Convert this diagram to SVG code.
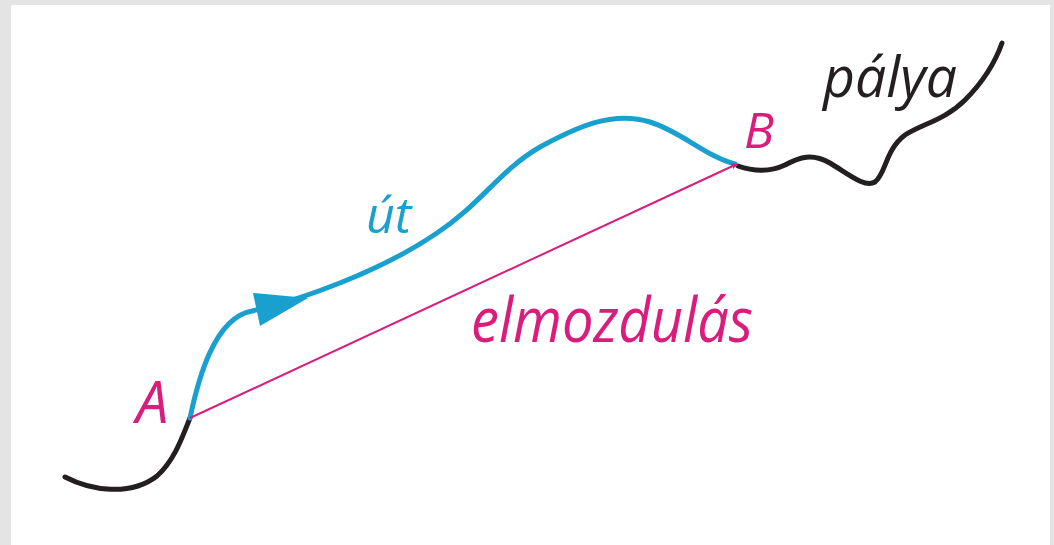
<svg xmlns="http://www.w3.org/2000/svg" width="1054" height="545" viewBox="0 0 1054 545">
  <style>
    .lbl { font-family: "Open Sans", "Noto Sans", sans-serif; font-style: italic; }
    .pink { fill: #d91d7c; }
    .blue { fill: #1aa0cf; }
    .dark { fill: #231f20; }
    .trail { fill: none; stroke: #231f20; stroke-width: 5; stroke-linecap: round; }
  </style>
  <defs>
    <marker id="pinkArrow" viewBox="0 0 10 10" refX="9" refY="5" markerWidth="6" markerHeight="6" orient="auto" markerUnits="userSpaceOnUse">
      <path d="M0,0 L10,5 L0,10 z" fill="#d91d7c"/>
    </marker>
  </defs>
  <rect x="0" y="0" width="1054" height="545" fill="#e4e4e4"/>
  <rect x="11" y="5" width="1039" height="540" fill="#ffffff"/>

  <g id="palya">
    <path class="trail" d="M65,477 C90,490 130,497 157,476 C175,460 183,435 190,418"/>
    <path class="trail" d="M738,166 C755,172 770,172 785,165 C800,157 812,153 830,163 C850,175 865,188 875,182 C886,174 885,150 905,135 C922,124 945,120 965,100 C985,80 996,60 1002,43"/>
    <text class="lbl dark" x="823" y="97" font-size="56" textLength="134" lengthAdjust="spacingAndGlyphs">pálya</text>
  </g>

  <g id="ut">
    <path d="M190,418 C198,380 214,318 252,311 C300,300 380,272 437,233 C480,205 500,170 540,147 C575,128 612,110 650,122 C682,132 705,156 735,164" fill="none" stroke="#1aa0cf" stroke-width="5" stroke-linecap="round"/>
    <polygon points="253,293 260,326 308,298" fill="#1aa0cf"/>
    <text class="lbl blue" x="366" y="233" font-size="50">út</text>
  </g>

  <g id="A">
    <text class="lbl pink" x="136" y="423" font-size="58">A</text>
  </g>
  <g id="B">
    <text class="lbl pink" x="744" y="148" font-size="50">B</text>
  </g>

  <g id="connectors">
    <line x1="190" y1="418" x2="737" y2="164" stroke="#d91d7c" stroke-width="2" marker-end="url(#pinkArrow)"/>
  </g>
  <g id="elmozdulas">
    <text class="lbl pink" x="471" y="342" font-size="62" textLength="282" lengthAdjust="spacingAndGlyphs">elmozdulás</text>
  </g>
</svg>
